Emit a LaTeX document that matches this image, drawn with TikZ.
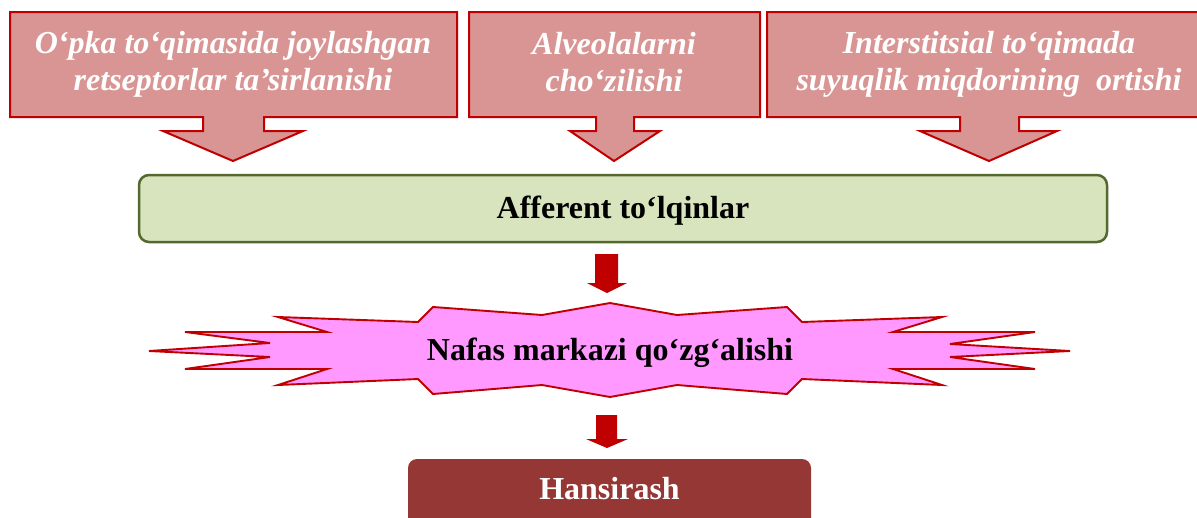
\documentclass[tikz,border=0pt]{standalone}
\usepackage{fontspec}
\setmainfont{Liberation Serif}
\definecolor{calfill}{HTML}{D99594}
\definecolor{calline}{HTML}{C00000}
\definecolor{grfill}{HTML}{D7E4BD}
\definecolor{grline}{HTML}{55692E}
\definecolor{pkfill}{HTML}{FF99FF}
\definecolor{hsfill}{HTML}{953735}
\tikzset{
  calloutbox/.style={fill=calfill,draw=calline,line width=2pt,line join=miter},
  caltext/.style={text=white,align=center,inner sep=0pt,font=\fontsize{32}{37}\selectfont\bfseries\itshape},
  boldtext/.style={inner sep=0pt,font=\fontsize{32}{38}\selectfont\bfseries},
  blockarrow/.style={fill=calline,draw=none},
  starshape/.style={fill=pkfill,draw=calline,line width=1.9pt,line join=miter}
}
\begin{document}
\begin{tikzpicture}[x=1pt,y=-1pt]
\useasboundingbox (0,0) rectangle (1197,517);
\clip (0,0) rectangle (1197,517);
% callouts
\draw[calloutbox] (10,12) -- (457,12) -- (457,117) -- (264,117) -- (264,131) -- (303,131) -- (233,161) -- (163,131) -- (203,131) -- (203,117) -- (10,117) -- cycle;
\draw[calloutbox] (469,12) -- (760,12) -- (760,117) -- (634,117) -- (634,131) -- (660,131) -- (614,161) -- (570,131) -- (596,131) -- (596,117) -- (469,117) -- cycle;
\draw[calloutbox] (767,12) -- (1212,12) -- (1212,117) -- (1019,117) -- (1019,131) -- (1057,131) -- (989,161) -- (920,131) -- (960,131) -- (960,117) -- (767,117) -- cycle;
\node[caltext] (c1) at (233,64) {O‘pka to‘qimasida joylashgan\\retseptorlar ta’sirlanishi};
\node[caltext] (c2) at (614,62) {Alveolalarni\\cho‘zilishi};
\node[caltext] (c3) at (989,64) {Interstitsial to‘qimada\\suyuqlik miqdorining\ \ ortishi};
% afferent box
\draw[fill=grfill,draw=grline,line width=2.5pt,rounded corners=10pt] (139,175) rectangle (1107,242);
\node[boldtext,anchor=base] (aff) at (623,218) {Afferent to‘lqinlar};
% arrow 1
\fill[blockarrow] (595,254) -- (618,254) -- (618,283) -- (627,283) -- (607,293) -- (587,283) -- (595,283) -- cycle;
% star
\draw[starshape] (610,303) -- (677,315) -- (787,307) -- (802,322) -- (942,317) -- (893,332) -- (1035,332) -- (950,344) -- (1070,351) -- (950,357) -- (1035,369) -- (893,369) -- (942,385) -- (802,379) -- (787,394) -- (677,385) -- (610,397) -- (542,385) -- (433,394) -- (418,379) -- (278,385) -- (327,369) -- (185,369) -- (270,357) -- (149,351) -- (270,343) -- (185,332) -- (327,332) -- (278,317) -- (418,322) -- (433,307) -- (542,315) -- cycle;
\node[boldtext,anchor=base] (naf) at (610,360) {Nafas markazi qo‘zg‘alishi};
% arrow 2
\fill[blockarrow] (596,415) -- (617,415) -- (617,439) -- (628,439) -- (607,448) -- (586,439) -- (596,439) -- cycle;
% hansirash
\fill[hsfill,rounded corners=9pt] (408,459) rectangle (811,560);
\node[boldtext,text=white,anchor=base] (hans) at (609.5,499) {Hansirash};
\end{tikzpicture}
\end{document}
